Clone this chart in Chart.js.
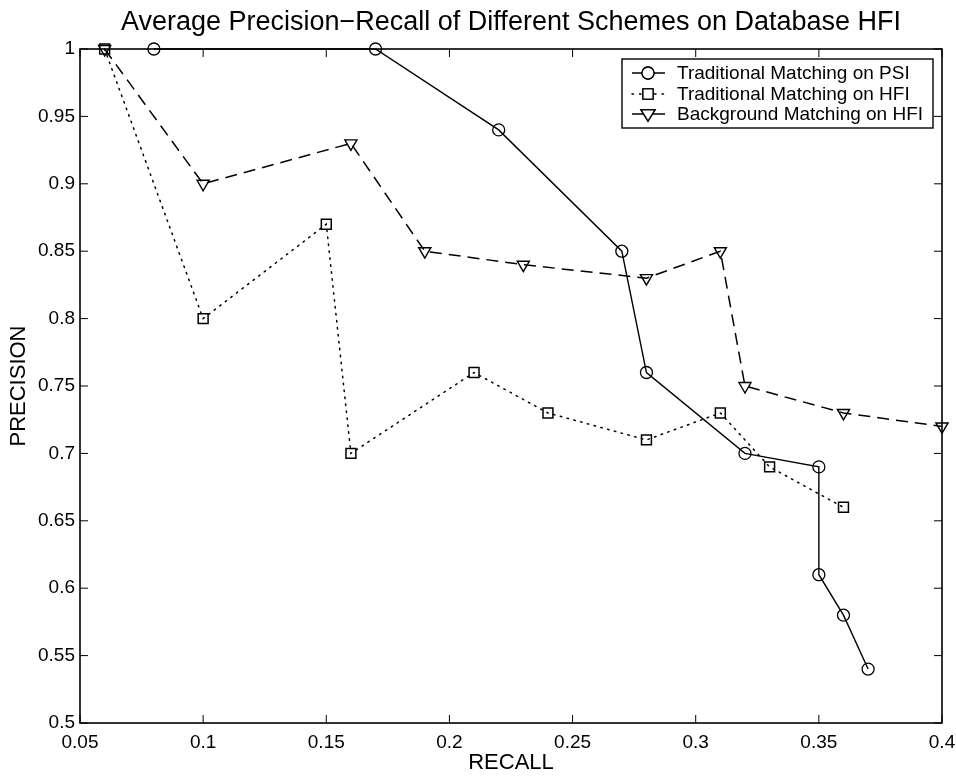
<!DOCTYPE html>
<html>
<head>
<meta charset="utf-8">
<title>Average Precision-Recall</title>
<script src="https://cdn.jsdelivr.net/npm/chart.js@4/dist/chart.umd.min.js"></script>
<style>
  body { margin: 0; background: #fff; }
  #wrap { width: 956px; height: 776px; }
</style>
</head>
<body>
<div id="wrap"><canvas id="myChart" width="956" height="776"></canvas></div>
<script>
// DATA
const xTicks = [0.05, 0.1, 0.15, 0.2, 0.25, 0.3, 0.35, 0.4];
const yTicks = [0.5, 0.55, 0.6, 0.65, 0.7, 0.75, 0.8, 0.85, 0.9, 0.95, 1];

const seriesNames = [
  "Traditional Matching on PSI",
  "Traditional Matching on HFI",
  "Background Matching on HFI"
];

// traditional matching on PSI (circles, solid)
const psiRecall = [0.08, 0.17, 0.22, 0.27, 0.28, 0.32, 0.35, 0.35, 0.36, 0.37];
const psiPrecision = [1.0, 1.0, 0.94, 0.85, 0.76, 0.70, 0.69, 0.61, 0.58, 0.54];

// traditional matching on HFI (squares, dotted)
const hfiRecall = [0.06, 0.10, 0.15, 0.16, 0.21, 0.24, 0.28, 0.31, 0.33, 0.36];
const hfiPrecision = [1.0, 0.80, 0.87, 0.70, 0.76, 0.73, 0.71, 0.73, 0.69, 0.66];

// background matching on HFI (down triangles, dashed)
const bgRecall = [0.06, 0.10, 0.16, 0.19, 0.23, 0.28, 0.31, 0.32, 0.36, 0.40];
const bgPrecision = [1.0, 0.90, 0.93, 0.85, 0.84, 0.83, 0.85, 0.75, 0.73, 0.72];

function toPoints(xs, ys) {
  return xs.map((x, i) => ({ x: x, y: ys[i] }));
}

const FONT = "'Liberation Sans', Arial, Helvetica, sans-serif";

// box + inward ticks, like matlab axes
const boxPlugin = {
  id: "box",
  afterDraw(chart) {
    const ctx = chart.ctx;
    const a = chart.chartArea;
    const xs = chart.scales.x;
    const ys = chart.scales.y;
    const tl = 8;
    ctx.save();
    ctx.strokeStyle = "#000";
    ctx.lineWidth = 1;
    ctx.beginPath();
    xTicks.forEach(v => {
      const px = xs.getPixelForValue(v);
      ctx.moveTo(px, a.bottom); ctx.lineTo(px, a.bottom - tl);
      ctx.moveTo(px, a.top); ctx.lineTo(px, a.top + tl);
    });
    yTicks.forEach(v => {
      const py = ys.getPixelForValue(v);
      ctx.moveTo(a.left, py); ctx.lineTo(a.left + tl, py);
      ctx.moveTo(a.right, py); ctx.lineTo(a.right - tl, py);
    });
    ctx.stroke();
    ctx.lineWidth = 1.6;
    ctx.strokeRect(a.left, a.top, a.right - a.left, a.bottom - a.top);
    ctx.restore();
  }
};

function drawMarker(ctx, style, x, y, r) {
  ctx.beginPath();
  if (style === "circle") {
    ctx.arc(x, y, r, 0, Math.PI * 2);
  } else if (style === "rect") {
    const h = r * 0.72;
    ctx.rect(x - h, y - h, h * 2, h * 2);
  } else {
    ctx.moveTo(x - r, y - r * 0.6);
    ctx.lineTo(x + r, y - r * 0.6);
    ctx.lineTo(x, y + r * 1.0);
    ctx.closePath();
  }
  ctx.stroke();
}

// legend box in the top right corner
const legendPlugin = {
  id: "boxLegend",
  afterDraw(chart) {
    const ctx = chart.ctx;
    const left = 622, top = 59, right = 933, bottom = 128;
    ctx.save();
    ctx.fillStyle = "#fff";
    ctx.fillRect(left, top, right - left, bottom - top);
    ctx.strokeStyle = "#000";
    ctx.lineWidth = 1.4;
    ctx.strokeRect(left, top, right - left, bottom - top);
    const rows = [73, 94, 114];
    chart.data.datasets.forEach((ds, i) => {
      const y = rows[i];
      ctx.lineWidth = ds.borderWidth;
      ctx.setLineDash(ds.legendDash || []);
      ctx.lineCap = ds.borderCapStyle || "butt";
      ctx.beginPath();
      ctx.moveTo(632, y);
      ctx.lineTo(665, y);
      ctx.stroke();
      ctx.setLineDash([]);
      ctx.fillStyle = "#fff";
      drawMarker(ctx, ds.pointStyle, 648, y, ds.pointRadius);
      ctx.fill();
      ctx.lineWidth = 1.3;
      drawMarker(ctx, ds.pointStyle, 648, y, ds.pointRadius);
      ctx.fillStyle = "#000";
      ctx.font = "19px " + FONT;
      ctx.textBaseline = "middle";
      ctx.fillText(ds.label, 677, y + 1);
    });
    ctx.restore();
  }
};

const ctx = document.getElementById("myChart");
const myChart = new Chart(ctx, {
  type: "scatter",
  data: {
    datasets: [
      {
        label: seriesNames[0],
        data: toPoints(psiRecall, psiPrecision),
        showLine: true,
        borderColor: "#000",
        borderWidth: 1.4,
        pointStyle: "circle",
        pointRadius: 6,
        pointBorderWidth: 1.3,
        pointBorderColor: "#000",
        pointBackgroundColor: "rgba(0,0,0,0)",
        clip: false
      },
      {
        label: seriesNames[1],
        data: toPoints(hfiRecall, hfiPrecision),
        showLine: true,
        borderColor: "#000",
        borderWidth: 1.5,
        borderDash: [1.5, 5.5],
        legendDash: [1.5, 6],
        borderCapStyle: "round",
        pointStyle: "rect",
        pointRadius: 7,
        pointBorderWidth: 1.5,
        pointBorderColor: "#000",
        pointBackgroundColor: "rgba(0,0,0,0)",
        clip: false
      },
      {
        label: seriesNames[2],
        data: toPoints(bgRecall, bgPrecision),
        showLine: true,
        borderColor: "#000",
        borderWidth: 1.5,
        borderDash: [12, 7],
        pointStyle: "triangle",
        pointRotation: 180,
        pointRadius: 7,
        pointBorderWidth: 1.4,
        pointBorderColor: "#000",
        pointBackgroundColor: "rgba(0,0,0,0)",
        clip: false
      }
    ]
  },
  options: {
    responsive: false,
    animation: false,
    layout: { padding: { left: 0, right: 14, top: 0, bottom: 0 } },
    plugins: {
      legend: { display: false },
      tooltip: { enabled: false },
      title: {
        display: true,
        fullSize: false,
        text: "Average Precision\u2212Recall of Different Schemes on Database HFI",
        color: "#000",
        font: { family: FONT, size: 27, weight: "normal" },
        padding: { top: 6, bottom: 10.6 }
      }
    },
    scales: {
      x: {
        type: "linear",
        min: 0.05,
        max: 0.4,
        afterBuildTicks: scale => { scale.ticks = xTicks.map(v => ({ value: v })); },
        afterFit: scale => {
          scale.height = 53;
          scale.paddingLeft = 0;
          scale.paddingRight = 0;
        },
        ticks: {
          color: "#000",
          font: { family: FONT, size: 19 },
          padding: 8,
          maxRotation: 0,
          autoSkip: false,
          callback: v => String(v)
        },
        grid: { display: false, drawTicks: false },
        border: { display: false },
        title: {
          display: true,
          text: "RECALL",
          color: "#000",
          font: { family: FONT, size: 22 },
          padding: { top: 0, bottom: 0 }
        }
      },
      y: {
        type: "linear",
        min: 0.5,
        max: 1,
        afterBuildTicks: scale => { scale.ticks = yTicks.map(v => ({ value: v })); },
        afterFit: scale => {
          scale.width = 80;
          scale.paddingTop = 0;
          scale.paddingBottom = 0;
        },
        ticks: {
          color: "#000",
          font: { family: FONT, size: 19 },
          padding: 5,
          autoSkip: false,
          callback: v => String(v)
        },
        grid: { display: false, drawTicks: false },
        border: { display: false },
        title: {
          display: true,
          text: "PRECISION",
          color: "#000",
          font: { family: FONT, size: 22 },
          padding: { top: 6, bottom: 0 }
        }
      }
    }
  },
  plugins: [boxPlugin, legendPlugin]
});
</script>
</body>
</html>
